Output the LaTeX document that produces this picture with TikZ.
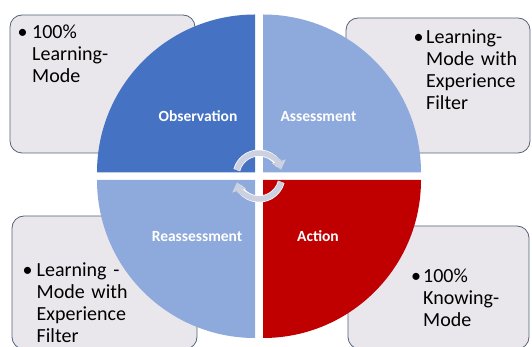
\documentclass[tikz,border=0pt]{standalone}
\usepackage{fontspec}
\setmainfont{Carlito}
\usetikzlibrary{arrows.meta}

\definecolor{obsblue}{RGB}{70,114,196}
\definecolor{paleblue}{RGB}{142,169,219}
\definecolor{actred}{RGB}{192,0,0}
\definecolor{boxgray}{RGB}{233,231,235}
\definecolor{boxline}{RGB}{84,98,122}
\definecolor{turngray}{RGB}{204,209,225}

\tikzset{
  notebox/.style={fill=boxgray, draw=boxline, line width=0.8pt, rounded corners=12pt},
  notetext/.style={anchor=base west, inner sep=0pt, text width=110pt, align=left,
    font=\fontsize{20}{22}\selectfont},
  bul/.style={anchor=base, inner sep=0pt, font=\fontsize{20}{22}\selectfont},
  phase/.style={anchor=base, inner sep=0pt, text=white, font=\fontsize{15.5}{18}\selectfont\bfseries},
  turnarrow/.style={line width=5.5pt, turngray, -{Triangle[width=14pt,length=8.5pt]}}
}

\begin{document}
\begin{tikzpicture}[x=1pt, y=1pt]
    \useasboundingbox (0,0) rectangle (532,347);

    % note boxes, behind the quarters
    \draw[notebox] (10,194) rectangle (195,332);
    \draw[notebox] (346,194) rectangle (530,329);
    \draw[notebox] (12,-2) rectangle (197,131);
    \draw[notebox] (348,-2) rectangle (529,121);

    % the four quarters
    \fill[obsblue] (255,174.5) -- ++(-158pt,0) arc[start angle=180, end angle=90, radius=158pt] -- cycle;
    \fill[paleblue] (263,174.5) -- ++(0,158pt) arc[start angle=90, end angle=0, radius=158pt] -- cycle;
    \fill[actred] (263,167) -- ++(158pt,0) arc[start angle=0, end angle=-90, radius=158pt] -- cycle;
    \fill[paleblue] (255,167) -- ++(0,-158pt) arc[start angle=270, end angle=180, radius=158pt] -- cycle;

    \node[phase] (obs) at (198,225) {Observation};
    \node[phase] (ass) at (318.5,225) {Assessment};
    \node[phase] (reass) at (197,105) {Reassessment};
    \node[phase] (act) at (318,105) {Action};

    % turning arrows in the middle
    \coordinate (hub) at (259,171);
    \draw[white, line width=7pt] ([shift={(165:23pt)}]hub) arc[start angle=165, end angle=28, radius=23pt];
    \draw[white, line width=7pt] ([shift={(-15:23pt)}]hub) arc[start angle=-15, end angle=-152, radius=23pt];
    \draw[turnarrow] ([shift={(165:23pt)}]hub) arc[start angle=165, end angle=16, radius=23pt];
    \draw[turnarrow] ([shift={(-15:23pt)}]hub) arc[start angle=-15, end angle=-164, radius=23pt];

    % box texts
    \node[bul] (tlb) at (22.5,308) {\textbullet};
    \node[notetext] (tlt) at (32,308) {100\%\\Learning-\\Mode};

    \node[bul] (trb) at (418.5,303) {\textbullet};
    \node[notetext] (trt) at (426,303) {Learning-\\Mode with\\Experience\\Filter};

    \node[bul] (blb) at (27.5,70) {\textbullet};
    \node[notetext] (blt) at (36.5,70) {Learning -\\Mode with\\Experience\\Filter};

    \node[bul] (brb) at (416,64) {\textbullet};
    \node[notetext] (brt) at (423,64) {100\%\\Knowing-\\Mode};
\end{tikzpicture}
\end{document}
